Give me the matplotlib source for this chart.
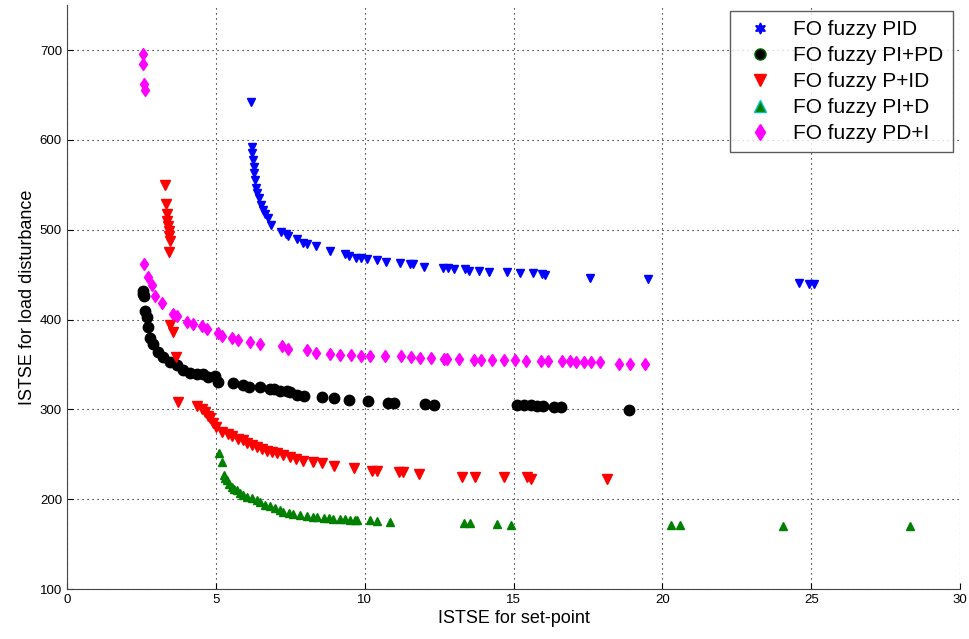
import numpy as np
from matplotlib import pyplot as plt
from matplotlib.lines import Line2D

plt.rcParams['font.family'] = ['Liberation Sans', 'DejaVu Sans']

# FO fuzzy PID
pid_x = [6.17, 6.22, 6.23, 6.25, 6.28, 6.30, 6.32, 6.35, 6.39, 6.44, 6.51, 6.59, 6.67, 6.75, 6.86,
         7.18, 7.35, 7.42, 7.72, 7.92, 8.05, 8.36, 8.83, 9.33, 9.46, 9.70, 9.87, 10.07, 10.40, 10.70,
         11.17, 11.51, 11.61, 11.98, 12.62, 12.79, 12.99, 13.36, 13.49, 13.83, 14.16, 14.77, 15.23,
         15.64, 15.94, 16.04, 17.56, 19.50, 24.57, 24.91, 25.10]
pid_y = [642, 592, 585, 578, 570, 563, 555, 547, 541, 535, 527, 522, 517, 513, 505,
         497, 495, 493, 490, 485, 484, 482, 476, 473, 471, 468, 468, 467, 466, 464,
         463, 462, 462, 458, 457, 457, 456, 456, 454, 454, 453, 453, 452,
         452, 451, 450, 446, 445, 441, 440, 440]

# FO fuzzy PI+PD
pipd_x = [2.56, 2.57, 2.58, 2.62, 2.68, 2.73, 2.79, 2.90, 3.07, 3.24, 3.46, 3.69, 3.91, 4.14, 4.36,
          4.58, 4.75, 4.98, 5.09, 5.59, 5.93, 6.10, 6.49, 6.83, 6.94, 7.16, 7.39, 7.50, 7.72, 7.95,
          8.56, 8.96, 9.49, 10.10, 10.80, 10.97, 12.04, 12.32, 15.12, 15.34, 15.57, 15.79, 16.00,
          16.35, 16.58, 18.86]
pipd_y = [432, 429, 426, 410, 403, 392, 380, 373, 364, 358, 353, 349, 344, 341, 339,
          340, 336, 337, 331, 329, 327, 325, 325, 323, 323, 321, 320, 319, 316, 315,
          314, 313, 311, 309, 307, 307, 306, 305, 305, 305, 305, 304, 304,
          303, 303, 299]

# FO fuzzy P+ID
pid2_x = [3.30, 3.33, 3.35, 3.37, 3.41, 3.43, 3.44, 3.46, 3.43, 3.46, 3.57, 3.66, 3.74,
          4.38, 4.55, 4.64, 4.75, 4.81, 4.92, 5.00, 5.20, 5.40, 5.56, 5.76, 5.93, 6.04, 6.20,
          6.38, 6.55, 6.71, 6.88, 7.05, 7.25, 7.50, 7.70, 7.92, 8.28, 8.56, 8.96, 9.63,
          10.24, 10.40, 11.14, 11.30, 11.81, 13.27, 13.72, 14.67, 15.46, 15.57, 18.15]
pid2_y = [550, 529, 517, 510, 504, 499, 493, 488, 475, 394, 386, 358, 308,
          304, 300, 297, 293, 290, 285, 280, 275, 273, 271, 267, 266, 263, 260,
          258, 256, 254, 253, 251, 249, 247, 245, 243, 241, 240, 237, 235,
          232, 231, 230, 230, 228, 225, 225, 225, 225, 223, 223]

# FO fuzzy PI+D
pid3_x = [5.10, 5.21, 5.27, 5.32, 5.37, 5.45, 5.54, 5.62, 5.70, 5.82, 5.93, 6.05, 6.21, 6.38,
          6.49, 6.65, 6.83, 7.00, 7.16, 7.27, 7.45, 7.61, 7.83, 8.06, 8.25, 8.40, 8.62, 8.80,
          8.95, 9.18, 9.35, 9.52, 9.68, 9.74, 10.19, 10.41, 10.86, 13.33, 13.55, 14.45, 14.90,
          20.30, 20.59, 24.05, 28.32]
pid3_y = [251, 242, 227, 224, 221, 217, 214, 211, 210, 207, 205, 203, 201, 199,
          197, 194, 192, 190, 188, 186, 185, 184, 182, 181, 180, 180, 179, 179,
          178, 178, 178, 177, 177, 177, 177, 176, 175, 174, 174, 172, 171,
          171, 171, 170, 170]

# FO fuzzy PD+I
pdi_x = [2.54, 2.57, 2.59, 2.62, 2.60, 2.73, 2.85, 2.96, 3.20, 3.57, 3.71, 4.02, 4.25, 4.53,
         4.70, 5.09, 5.20, 5.54, 5.76, 6.15, 6.49, 7.22, 7.44, 8.06, 8.37, 8.82, 9.18, 9.54,
         9.87, 10.19, 10.69, 11.22, 11.57, 11.87, 12.24, 12.65, 12.77, 13.16, 13.66, 13.89,
         14.28, 14.69, 15.06, 15.42, 15.93, 16.15, 16.63, 16.89, 17.11, 17.38, 17.59, 17.89,
         18.54, 18.90, 19.43]
pdi_y = [696, 684, 662, 656, 462, 447, 438, 426, 418, 406, 404, 397, 395, 393,
         389, 385, 382, 379, 377, 375, 373, 371, 367, 366, 363, 362, 361, 361,
         360, 360, 359, 359, 358, 357, 357, 356, 356, 356, 355, 355,
         355, 355, 355, 354, 354, 354, 354, 354, 353, 353, 353, 353,
         351, 351, 351]

labels = ['FO fuzzy PID', 'FO fuzzy PI+PD', 'FO fuzzy P+ID', 'FO fuzzy PI+D', 'FO fuzzy PD+I']

fig = plt.figure(figsize=(9.69, 6.39), dpi=100)
ax = fig.add_axes([0.069, 0.078, 0.922, 0.914])

ax.plot(pid_x, pid_y, 'v', color='#0000ff', ms=5.5, mec='#0000ff', ls='none')
ax.plot(pipd_x, pipd_y, 'o', color='black', ms=7.5, ls='none')
ax.plot(pid2_x, pid2_y, 'v', color='#ff0000', ms=7.5, ls='none')
ax.plot(pid3_x, pid3_y, '^', color='#008000', ms=6, ls='none')
ax.plot(pdi_x, pdi_y, 'd', color='#ff00ff', ms=6, ls='none')

ax.set_xlim(0, 30)
ax.set_ylim(100, 750)
ax.set_xticks(np.arange(0, 31, 5))
ax.set_yticks(np.arange(100, 701, 100))
ax.tick_params(direction='in', labelsize=9.5, length=4)
ax.grid(True, color='black', lw=0.8, dashes=(1, 3.5))
ax.spines['top'].set_visible(False)
ax.spines['right'].set_visible(False)
ax.spines['left'].set_color('#444444')
ax.spines['bottom'].set_color('#444444')

ax.set_xlabel('ISTSE for set-point', fontsize=13, labelpad=3)
ax.set_ylabel('ISTSE for load disturbance', fontsize=13, labelpad=3)

handles = [
    Line2D([], [], marker=(6, 1, 0), color='#0000ff', ls='none', ms=8),
    Line2D([], [], marker='o', color='black', mec='#006400', ls='none', ms=8),
    Line2D([], [], marker='v', color='#ff0000', ls='none', ms=9),
    Line2D([], [], marker='^', color='#008000', mec='#00c0c0', ls='none', ms=8),
    Line2D([], [], marker='d', color='#ff00ff', ls='none', ms=8),
]
leg = ax.legend(handles, labels, loc='upper right', bbox_to_anchor=(0.9915, 0.99),
                fontsize=15, frameon=True, fancybox=False, edgecolor='#333333',
                borderpad=0.45, labelspacing=0.33, handlelength=2.0, handletextpad=0.6,
                borderaxespad=0)
leg.get_frame().set_linewidth(1.0)

fig.savefig('out.png', dpi=100)
